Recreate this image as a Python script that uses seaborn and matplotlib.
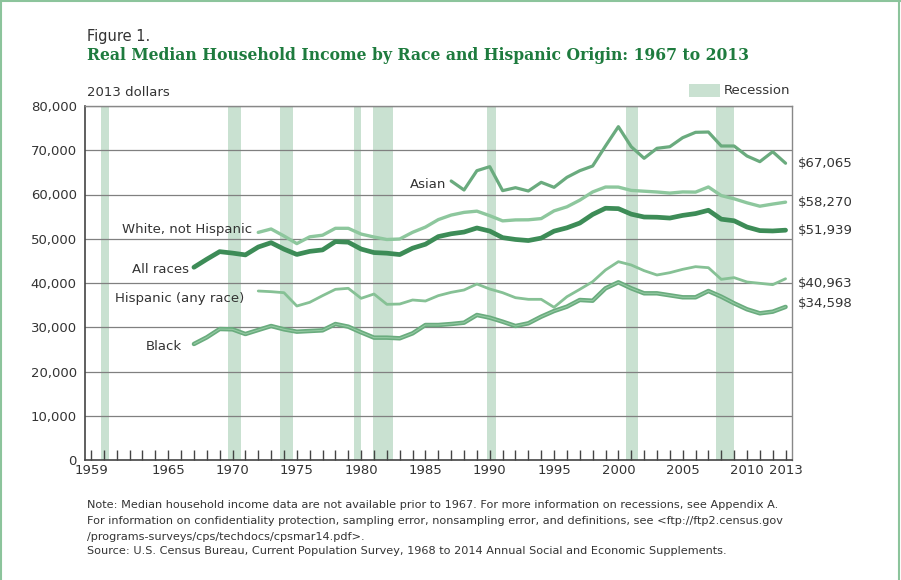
import matplotlib
matplotlib.use("Agg")
import matplotlib.pyplot as plt
from matplotlib.patches import Rectangle
from matplotlib.lines import Line2D
import seaborn as sns
import pandas as pd
import numpy as np

# ---------------- data ----------------
years_all = list(range(1967, 2014))
all_races = [43558, 45374, 47086, 46757, 46352, 48128, 49111, 47655, 46450, 47149,
             47483, 49361, 49225, 47668, 46877, 46737, 46425, 47866, 48761, 50488,
             51121, 51514, 52432, 51735, 50249, 49836, 49594, 50148, 51719, 52471,
             53551, 55497, 56895, 56800, 55562, 54913, 54865, 54674, 55278, 55689,
             56436, 54423, 54059, 52646, 51842, 51759, 51939]
black = [26215, 27720, 29600, 29530, 28470, 29380, 30280, 29530, 29000, 29150,
         29300, 30730, 30130, 28850, 27650, 27650, 27500, 28620, 30510, 30510,
         30730, 31030, 32770, 32160, 31260, 30280, 30890, 32390, 33670, 34650,
         36160, 36000, 38800, 40160, 38800, 37670, 37670, 37220, 36770, 36770,
         38190, 36910, 35410, 34060, 33150, 33520, 34598]

years_72 = list(range(1972, 2014))
white_nh = [51436, 52205, 50626, 48903, 50432, 50800, 52362, 52358, 51055, 50393,
            49829, 49944, 51455, 52633, 54323, 55350, 55958, 56236, 55210, 54041,
            54256, 54284, 54556, 56301, 57215, 58720, 60578, 61687, 61674, 60921,
            60744, 60567, 60315, 60578, 60539, 61701, 59750, 59029, 58124, 57354,
            57837, 58270]
hispanic = [38190, 38040, 37810, 34800, 35630, 37140, 38570, 38800, 36540, 37510,
            35180, 35250, 36160, 35930, 37140, 37890, 38420, 39770, 38640, 37810,
            36680, 36310, 36310, 34510, 36900, 38570, 40300, 42940, 44820, 44070,
            42790, 41810, 42330, 43090, 43690, 43460, 40830, 41210, 40230, 39930,
            39620, 40963]

years_87 = list(range(1987, 2014))
asian = [63051, 61017, 65380, 66290, 60870, 61540, 60790, 62750, 61620, 63880,
         65380, 66440, 70960, 75330, 70800, 68180, 70440, 70800, 72840, 74050,
         74120, 70960, 70960, 68700, 67420, 69670, 67065]

recession_start = [1959.78, 1969.66, 1973.71, 1979.47, 1980.95, 1989.82, 2000.56, 2007.56]
recession_end = [1960.40, 1970.67, 1974.72, 1980.01, 1982.50, 1990.52, 2001.49, 2008.96]

xtick_labels = ["1959", "1965", "1970", "1975", "1980", "1985", "1990", "1995",
                "2000", "2005", "2010", "2013"]
ytick_values = [0, 10000, 20000, 30000, 40000, 50000, 60000, 70000, 80000]

# ---------------- style ----------------
sns.set_theme(style="white")
plt.rcParams["font.family"] = ["DejaVu Sans"]

W, H = 901, 580
fig = plt.figure(figsize=(W / 100, H / 100), dpi=100)
ax = fig.add_axes([85 / W, 1 - 460 / H, (792 - 85) / W, (460 - 106) / H])

TXT = "#333333"
C_ALL = "#3d8c57"
C_ASIAN = "#6aab7e"
C_WHITE = "#8dc79d"
C_HISP = "#86c195"
C_BLACK = "#6aac7e"
C_BLACK_IN = "#94caa3"
C_REC = "#c9e1d1"
TITLE_G = "#1e7b3e"

# recession bands
for s, e in zip(recession_start, recession_end):
    ax.axvspan(s, e, color=C_REC, lw=0, zorder=0)

# gridlines
for v in ytick_values[1:]:
    ax.axhline(v, color="#808080", lw=0.9, zorder=1)

df_all = pd.DataFrame({"year": years_all, "All races": all_races, "Black": black})
df_72 = pd.DataFrame({"year": years_72, "White": white_nh, "Hispanic": hispanic})
df_87 = pd.DataFrame({"year": years_87, "Asian": asian})

sns.lineplot(data=df_87, x="year", y="Asian", color=C_ASIAN, lw=2.3, ax=ax, zorder=3)
sns.lineplot(data=df_72, x="year", y="White", color=C_WHITE, lw=2.4, ax=ax, zorder=3)
sns.lineplot(data=df_all, x="year", y="All races", color=C_ALL, lw=3.4, ax=ax, zorder=4)
sns.lineplot(data=df_72, x="year", y="Hispanic", color=C_HISP, lw=2.0, ax=ax, zorder=3)
sns.lineplot(data=df_all, x="year", y="Black", color=C_BLACK, lw=3.2, ax=ax, zorder=3)
sns.lineplot(data=df_all, x="year", y="Black", color=C_BLACK_IN, lw=0.8, ax=ax, zorder=3)

ax.set_xlim(1958.53, 2013.5)
ax.set_ylim(0, 80000)
ax.set_xlabel("")
ax.set_ylabel("")

# x ticks every year, labels at selected years
yrs = list(range(1959, 2014))
ax.set_xticks(yrs)
ax.set_xticklabels([str(y) if str(y) in xtick_labels else "" for y in yrs])
ax.tick_params(axis="x", direction="in", length=7, width=1.0, color="#444444",
               labelsize=9.5, labelcolor=TXT, pad=3, bottom=True)
ax.set_yticks(ytick_values)
ax.set_yticklabels([f"{v:,}" for v in ytick_values])
ax.tick_params(axis="y", length=0, labelsize=9.5, labelcolor=TXT, pad=6)

for side in ["left", "bottom"]:
    ax.spines[side].set_color("#444444")
    ax.spines[side].set_linewidth(1.2)
for side in ["top", "right"]:
    ax.spines[side].set_color("#888888")
    ax.spines[side].set_linewidth(1.0)
ax.grid(False)

# series labels
lab_kw = dict(fontsize=9.5, color=TXT, ha="right", va="center")
ax.text(1986.6, 62370, "Asian", **lab_kw)
ax.text(1971.53, 52200, "White, not Hispanic", **lab_kw)
ax.text(1966.63, 43160, "All races", **lab_kw)
ax.text(1970.9, 36610, "Hispanic (any race)", **lab_kw)
ax.text(1966.08, 25760, "Black", **lab_kw)

# end value labels
end_vals = [asian[-1], white_nh[-1], all_races[-1], hispanic[-1], black[-1]]
end_offsets = [0, 0, 0, -3.5, 2.5]
for v, off in zip(end_vals, end_offsets):
    ax.annotate(f"${v:,}", xy=(1.0, v), xycoords=("axes fraction", "data"),
                xytext=(4, off), textcoords="offset points",
                fontsize=9.5, color=TXT, ha="left", va="center")

# titles
fig.text(87 / W, 1 - 36 / H, "Figure 1.", fontsize=10.5, color=TXT, ha="left", va="center")
fig.text(87 / W, 1 - 55 / H,
         "Real Median Household Income by Race and Hispanic Origin: 1967 to 2013",
         fontsize=12.5, fontweight="bold", color=TITLE_G, ha="left", va="center",
         family=["DejaVu Serif"], fontstretch="condensed")
fig.text(87 / W, 1 - 93 / H, "2013 dollars", fontsize=9.5, color=TXT, ha="left", va="center")

# recession legend
fig.add_artist(Rectangle((689 / W, 1 - 97 / H), 31 / W, 13 / H, transform=fig.transFigure,
                         facecolor=C_REC, edgecolor="none"))
fig.text(724 / W, 1 - 90 / H, "Recession", fontsize=9.5, color=TXT, ha="left", va="center")

# notes
note_kw = dict(fontsize=8.1, color=TXT, ha="left", va="center",
               family=["Liberation Sans Narrow", "DejaVu Sans"])
fig.text(87 / W, 1 - 505 / H,
         "Note: Median household income data are not available prior to 1967. For more information on recessions, see Appendix A.",
         **note_kw)
fig.text(87 / W, 1 - 521.5 / H,
         "For information on confidentiality protection, sampling error, nonsampling error, and definitions, see <ftp://ftp2.census.gov",
         **note_kw)
fig.text(87 / W, 1 - 537.5 / H, "/programs-surveys/cps/techdocs/cpsmar14.pdf>.", **note_kw)
fig.text(87 / W, 1 - 551 / H,
         "Source: U.S. Census Bureau, Current Population Survey, 1968 to 2014 Annual Social and Economic Supplements.",
         **note_kw)

# figure frame (left, top, right)
fc = "#8cc49c"
fig.add_artist(Line2D([0.001, 0.001], [0, 1], transform=fig.transFigure, color=fc, lw=1.5))
fig.add_artist(Line2D([0, 1], [0.999, 0.999], transform=fig.transFigure, color=fc, lw=1.5))
fig.add_artist(Line2D([0.9975, 0.9975], [0, 1], transform=fig.transFigure, color=fc, lw=1.5))

fig.savefig("out.png", dpi=100)
